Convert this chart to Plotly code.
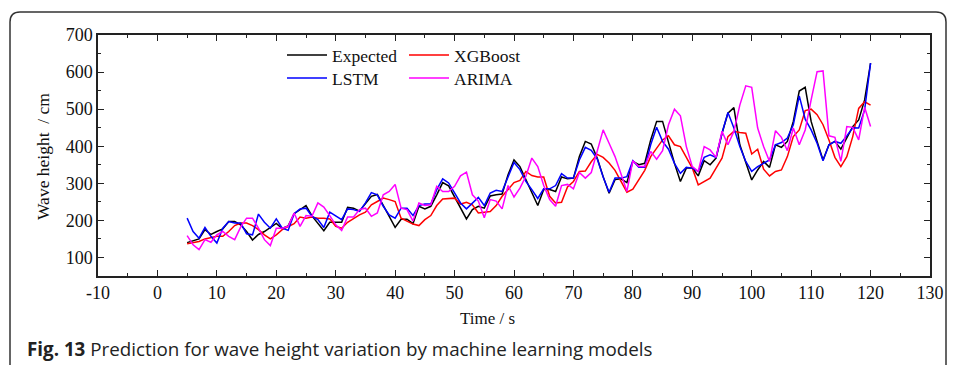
import plotly.graph_objects as go

time_s = list(range(5, 121))

expected = [140, 145, 150, 175, 162, 170, 177, 197, 197, 188,
            170, 147, 162, 170, 180, 192, 178, 185, 218, 230,
            240, 212, 192, 172, 195, 195, 195, 235, 233, 225,
            245, 265, 270, 240, 210, 181, 203, 203, 191, 238,
            231, 238, 269, 302, 293, 264, 233, 204, 229, 238,
            233, 266, 269, 271, 323, 363, 345, 310, 278, 240,
            283, 283, 278, 317, 312, 314, 372, 413, 406, 368,
            318, 273, 310, 312, 302, 359, 350, 354, 417, 467,
            467, 408, 354, 305, 341, 341, 320, 361, 350, 368,
            435, 489, 504, 404, 354, 309, 336, 359, 343, 404,
            397, 413, 467, 549, 559, 467, 413, 363, 404, 413,
            392, 422, 453, 471, 525, 624]

xgboost = [137, 139, 143, 150, 154, 157, 157, 170, 186, 193,
           193, 186, 175, 161, 150, 161, 175, 184, 191, 209,
           206, 209, 206, 206, 204, 184, 179, 195, 206, 215,
           222, 242, 251, 260, 256, 251, 206, 197, 190, 186,
           202, 213, 240, 258, 260, 260, 244, 249, 242, 220,
           222, 224, 240, 265, 283, 302, 308, 332, 321, 317,
           317, 265, 247, 249, 290, 305, 332, 333, 358, 378,
           370, 355, 335, 305, 276, 284, 309, 335, 372, 395,
           417, 428, 404, 399, 368, 341, 296, 305, 314, 341,
           368, 426, 440, 437, 435, 379, 392, 338, 320, 332,
           336, 372, 426, 444, 496, 500, 485, 458, 417, 370,
           345, 372, 426, 502, 520, 511]

lstm = [206, 170, 152, 181, 157, 139, 179, 197, 193, 193,
        164, 161, 217, 195, 179, 204, 179, 173, 218, 231,
        233, 211, 202, 181, 222, 213, 202, 231, 229, 224,
        247, 275, 269, 238, 215, 206, 233, 233, 213, 240,
        244, 244, 283, 312, 301, 274, 247, 231, 247, 262,
        240, 274, 281, 278, 317, 356, 337, 305, 283, 259,
        285, 285, 294, 326, 314, 314, 363, 397, 389, 366,
        317, 276, 314, 314, 318, 361, 343, 343, 404, 451,
        413, 392, 354, 327, 343, 341, 332, 370, 377, 370,
        435, 491, 449, 399, 359, 332, 345, 354, 363, 404,
        410, 422, 458, 536, 473, 444, 408, 361, 404, 413,
        408, 428, 450, 449, 498, 624]

arima = [159, 134, 121, 148, 141, 161, 170, 157, 148, 182,
         206, 206, 179, 148, 132, 179, 179, 184, 220, 184,
         213, 211, 247, 236, 213, 188, 173, 209, 209, 229,
         233, 211, 220, 269, 278, 297, 233, 229, 198, 247,
         240, 242, 292, 278, 278, 292, 320, 330, 269, 252,
         207, 256, 252, 231, 294, 263, 287, 319, 368, 345,
         294, 256, 238, 294, 297, 285, 329, 314, 329, 390,
         444, 408, 372, 326, 278, 361, 345, 345, 386, 365,
         388, 458, 500, 482, 399, 345, 332, 399, 390, 370,
         440, 404, 440, 511, 563, 559, 449, 399, 359, 442,
         424, 388, 449, 404, 444, 525, 601, 603, 428, 424,
         359, 453, 451, 417, 505, 453]

x_ticks = [-10, 0, 10, 20, 30, 40, 50, 60, 70, 80, 90, 100, 110, 120, 130]
y_ticks = [100, 200, 300, 400, 500, 600, 700]

W, H = 958, 365
ML, MR, MT, MB = 98, 28, 35, 89
PW, PH = W - ML - MR, H - MT - MB


def px(x):
    return (x - ML) / PW


def py(y):
    return (H - MB - y) / PH


SERIF = "Liberation Serif, Times New Roman, serif"

fig = go.Figure()
# name, values, colour, legend id, legend top-left pixel position
series = [
    ("Expected", expected, "#000000", "legend", (282, 37)),
    ("XGBoost", xgboost, "#ff0000", "legend2", (404, 37)),
    ("LSTM", lstm, "#0000ff", "legend3", (282, 60)),
    ("ARIMA", arima, "#ff00ff", "legend4", (404, 60)),
]
legend_common = dict(
    bgcolor="rgba(0,0,0,0)", font=dict(family=SERIF, size=17.5, color="#111"),
    xanchor="left", yanchor="top", itemwidth=40, tracegroupgap=0,
)
legend_layout = {}
for name, vals, color, leg, (lx, ly) in series:
    fig.add_trace(go.Scatter(
        x=time_s, y=vals, mode="lines", name=name,
        line=dict(color=color, width=1.5),
        legend=leg,
    ))
    legend_layout[leg] = dict(x=px(lx), y=py(ly), **legend_common)

axis_common = dict(
    showline=True, linecolor="#222", linewidth=1.5, mirror="ticks",
    ticks="inside", ticklen=6, tickwidth=1.2, tickcolor="#222",
    showgrid=False, zeroline=False,
    tickfont=dict(family=SERIF, size=18, color="#111"),
)

fig.update_xaxes(range=[-10, 130], tickmode="array", tickvals=x_ticks,
                 ticktext=[str(v) for v in x_ticks],
                 minor=dict(ticks="inside", dtick=5, ticklen=3, tickcolor="#222"),
                 **axis_common)
fig.update_yaxes(range=[50, 700], tickmode="array", tickvals=y_ticks,
                 ticktext=[str(v) for v in y_ticks],
                 minor=dict(ticks="inside", dtick=50, ticklen=3, tickcolor="#222"),
                 **axis_common)

fig.update_layout(
    width=W, height=H,
    margin=dict(l=ML, r=MR, t=MT, b=MB),
    paper_bgcolor="white", plot_bgcolor="white",
    showlegend=True,
    **legend_layout,
    annotations=[
        dict(text="Time / s", x=px(487), y=py(318), xref="paper", yref="paper",
             showarrow=False, xanchor="center", yanchor="middle",
             font=dict(family=SERIF, size=17, color="#111")),
        dict(text="Wave height  / cm", x=px(43), y=py(157), xref="paper", yref="paper",
             showarrow=False, xanchor="center", yanchor="middle", textangle=-90,
             font=dict(family=SERIF, size=17.5, color="#111")),
        dict(text="<b>Fig. 13</b> Prediction for wave height variation by machine learning models",
             x=px(25), y=py(349), xref="paper", yref="paper",
             showarrow=False, xanchor="left", yanchor="middle",
             font=dict(family="Open Sans, Noto Sans, sans-serif", size=18.8, color="#222")),
    ],
    shapes=[
        dict(type="path", xref="paper", yref="paper",
             path=(f"M {px(10)},{py(380)} L {px(10)},{py(22)} "
                   f"Q {px(10)},{py(12)} {px(20)},{py(12)} "
                   f"L {px(936)},{py(12)} Q {px(946)},{py(12)} {px(946)},{py(22)} "
                   f"L {px(946)},{py(380)}"),
             line=dict(color="#333", width=1.5)),
    ],
)

fig.write_html("out.html")
